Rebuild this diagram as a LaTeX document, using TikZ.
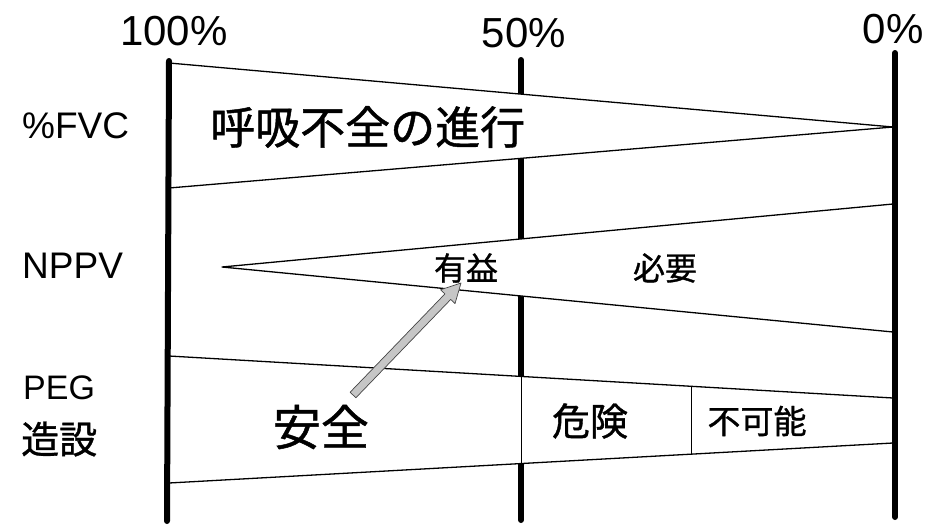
\documentclass[tikz,border=0pt]{standalone}
\usepackage{fontspec}
\setmainfont{Liberation Sans}
\newfontfamily\jp[FakeBold=1.0]{Noto Sans CJK JP}
\usetikzlibrary{calc}
\begin{document}
\begin{tikzpicture}[x=1pt,y=-1pt,
  axisline/.style={line width=6pt, line cap=round},
  band/.style={fill=white, draw=black, line width=1.3pt, line join=round},
  divider/.style={draw=black, line width=1pt},
  pct/.style={font=\fontsize{42}{46}\selectfont, anchor=base, inner sep=0pt},
  rowlabel/.style={anchor=base west, inner sep=0pt},
  jlabel/.style={inner sep=0pt, font=\jp},
  grayarrow/.style={fill=gray!45, draw=gray!55!black, line width=0.7pt, line join=round},
]
\useasboundingbox (0,0) rectangle (931,525);

% axis end points
\coordinate (t100) at (169,61);  \coordinate (b100) at (167,521);
\coordinate (t50)  at (521,60);  \coordinate (b50)  at (521,520);
\coordinate (t0)   at (895,53);  \coordinate (b0)   at (895,517);

\draw[axisline] (t50) -- (b50);

% %FVC wedge
\coordinate (fvcT) at (169,63);
\coordinate (fvcA) at (893,127);
\coordinate (fvcB) at (169,188);
\draw[band] (fvcT) -- (fvcA) -- (fvcB) -- cycle;

% NPPV wedge
\coordinate (nppvA) at (222,267);
\coordinate (nppvT) at (893,204);
\coordinate (nppvB) at (893,332);
\draw[band] (nppvA) -- (nppvT) -- (nppvB) -- cycle;

% PEG band
\coordinate (pegTL) at (169,356);
\coordinate (pegTR) at (893,398);
\coordinate (pegBR) at (893,443);
\coordinate (pegBL) at (169,483);
\draw[band] (pegTL) -- (pegTR) -- (pegBR) -- (pegBL) -- cycle;
\coordinate (d1t) at (521,376.4); \coordinate (d1b) at (521,463.6);
\coordinate (d2t) at (691,386.3); \coordinate (d2b) at (691,454.2);
\draw[divider] (d1t) -- (d1b);
\draw[divider] (d2t) -- (d2b);

% outer axes
\draw[axisline] (t100) -- (b100);
\draw[axisline] (t0) -- (b0);

% arrow
\coordinate (arrTail) at (353,395);
\coordinate (arrHead) at (461,283);
\coordinate (hb) at ($(arrHead)!19pt!(arrTail)$);
\draw[grayarrow]
  ($(arrTail)!4pt!90:(arrHead)$) --
  ($(hb)!4pt!-90:(arrTail)$) --
  ($(hb)!10pt!-90:(arrTail)$) --
  (arrHead) --
  ($(hb)!10pt!90:(arrTail)$) --
  ($(hb)!4pt!90:(arrTail)$) --
  ($(arrTail)!4pt!-90:(arrHead)$) -- cycle;

% percentages
\node[pct] (p100) at (174,45) {100\%};
\node[pct] (p50)  at (524,47) {50\%};
\node[pct] (p0)   at (893,43) {0\%};

% row labels
\node[rowlabel, font=\fontsize{37}{40}\selectfont] (lfvc) at (22,138) {\%FVC};
\node[rowlabel, font=\fontsize{37}{40}\selectfont] (lnppv) at (22,278) {NPPV};
\node[rowlabel, font=\fontsize{34}{38}\selectfont] (lpeg) at (23,399) {PEG};
\node[anchor=west, jlabel, font=\jp\fontsize{38}{42}\selectfont] (lzosetsu) at (21,439) {造設};

% inner labels
\node[anchor=west, jlabel, font=\jp\fontsize{45}{48}\selectfont] (prog) at (210,127) {呼吸不全の進行};
\node[jlabel, font=\jp\fontsize{32}{36}\selectfont] (yueki) at (466,268) {有益};
\node[jlabel, font=\jp\fontsize{32}{36}\selectfont] (hitsuyo) at (665,268) {必要};
\node[jlabel, font=\jp\fontsize{48}{52}\selectfont] (anzen) at (321,427) {安全};
\node[jlabel, font=\jp\fontsize{38}{42}\selectfont] (kiken) at (590,421) {危険};
\node[jlabel, font=\jp\fontsize{33}{36}\selectfont] (fukano) at (757,421) {不可能};
\end{tikzpicture}
\end{document}
